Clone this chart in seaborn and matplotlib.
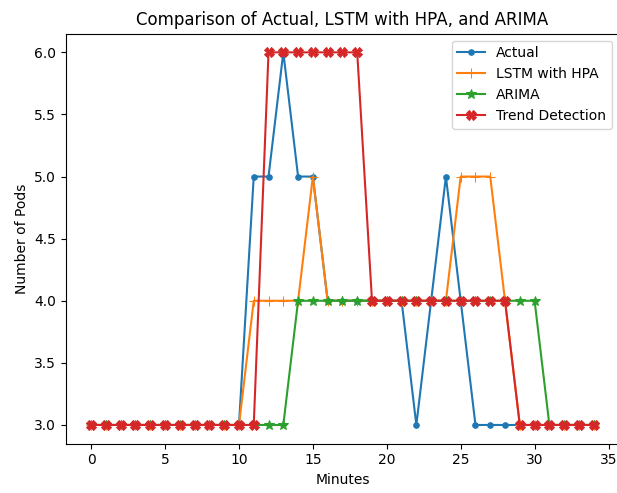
import matplotlib
matplotlib.use("Agg")
import matplotlib.pyplot as plt
import seaborn as sns
import pandas as pd

minutes = list(range(35))
actual = [3,3,3,3,3,3,3,3,3,3,3,5,5,6,5,5,4,4,4,4,4,4,3,4,5,4,3,3,3,3,3,3,3,3,3]
lstm   = [3,3,3,3,3,3,3,3,3,3,3,4,4,4,4,5,4,4,4,4,4,4,4,4,4,5,5,5,4,3,3,3,3,3,3]
arima  = [3,3,3,3,3,3,3,3,3,3,3,3,3,3,4,4,4,4,4,4,4,4,4,4,4,4,4,4,4,4,4,3,3,3,3]
trend  = [3,3,3,3,3,3,3,3,3,3,3,3,6,6,6,6,6,6,6,4,4,4,4,4,4,4,4,4,4,3,3,3,3,3,3]

series = [("Actual", actual, "o", 4, "#1f77b4"),
          ("LSTM with HPA", lstm, "+", 7, "#ff7f0e"),
          ("ARIMA", arima, "*", 7, "#2ca02c"),
          ("Trend Detection", trend, "X", 7, "#d62728")]

fig, ax = plt.subplots(figsize=(6.17, 4.93), dpi=100)
for name, vals, mk, ms, col in series:
    df = pd.DataFrame({"Minutes": minutes, "Pods": vals})
    sns.lineplot(data=df, x="Minutes", y="Pods", ax=ax, marker=mk, markersize=ms,
                 color=col, label=name, markeredgecolor=col, linewidth=1.5)

ax.set_title("Comparison of Actual, LSTM with HPA, and ARIMA")
ax.set_xlabel("Minutes")
ax.set_ylabel("Number of Pods")
ax.legend(loc="upper right")
fig.subplots_adjust(left=0.107, right=1.003, top=0.9316, bottom=0.1002)
fig.savefig("out.png", dpi=100)
